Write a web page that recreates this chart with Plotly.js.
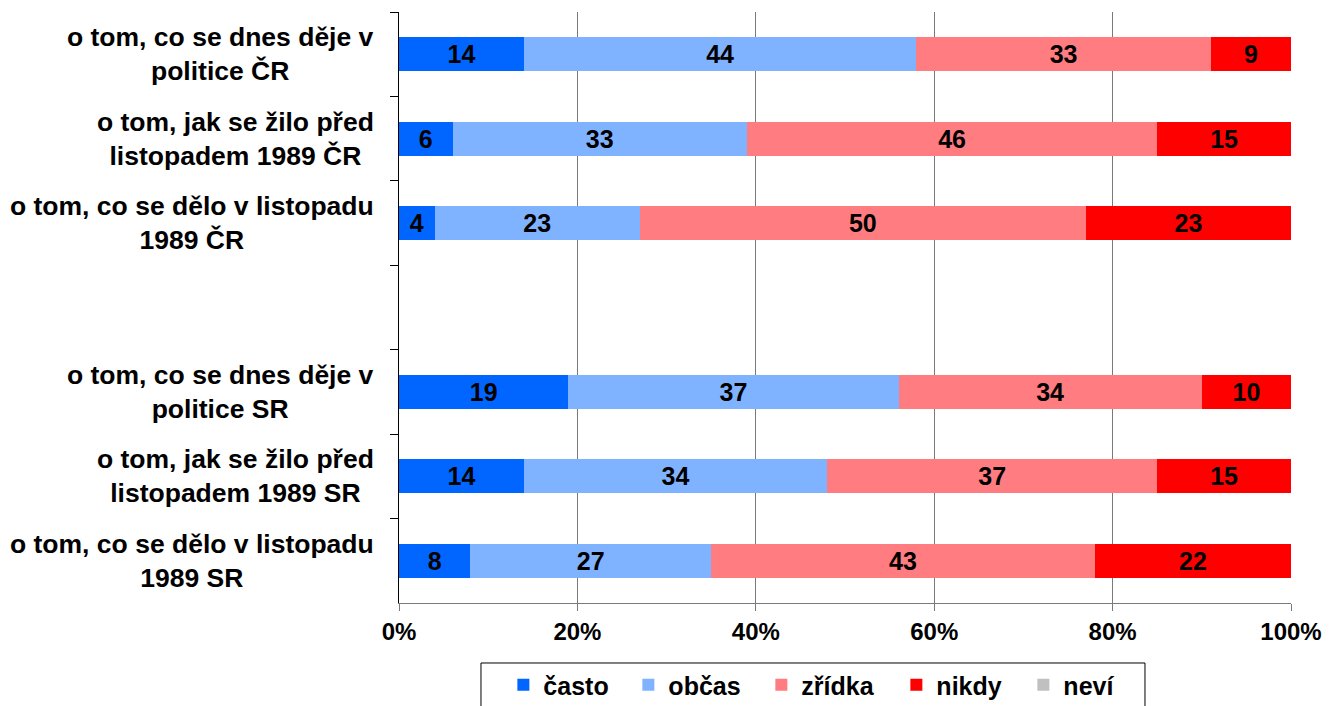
<!DOCTYPE html>
<html>
<head>
<meta charset="utf-8">
<script src="https://cdn.plot.ly/plotly-3.0.1.min.js"></script>
<style>html,body{margin:0;padding:0;background:#fff;}#chart{width:1335px;height:706px;}</style>
</head>
<body>
<div id="chart"></div>
<script>
// Category slots (the blank one is the gap between ČR and SR groups)
var categories = [
  "o tom, co se dnes děje v<br>politice ČR",
  "o tom, jak se žilo před<br>listopadem 1989 ČR",
  "o tom, co se dělo v listopadu<br>1989 ČR",
  " ",
  "o tom, co se dnes děje v<br>politice SR",
  "o tom, jak se žilo před<br>listopadem 1989 SR",
  "o tom, co se dělo v listopadu<br>1989 SR"
];
var barCategories = categories.filter(function(c){ return c.trim() !== ""; });

var seriesNames = ["často", "občas", "zřídka", "nikdy", "neví"];
var casto  = [14, 6, 4, 19, 14, 8];
var obcas  = [44, 33, 23, 37, 34, 27];
var zridka = [33, 46, 50, 34, 37, 43];
var nikdy  = [9, 15, 23, 10, 15, 22];
var nevi   = [0, 0, 0, 0, 0, 0];
var xTickVals = [0, 20, 40, 60, 80, 100];
var xTickText = ["0%", "20%", "40%", "60%", "80%", "100%"];

var seriesValues = [casto, obcas, zridka, nikdy, nevi];
var colors = ["#0066FF", "#80B3FF", "#FF7C80", "#FF0000", "#C0C0C0"];
var legendWidths = [80, 88, 90, 82, 70];

var FONT = "Liberation Sans, Arial, sans-serif";

var traces = seriesNames.map(function(name, i){
  return {
    type: "bar",
    orientation: "h",
    name: name,
    y: barCategories,
    x: seriesValues[i],
    text: seriesValues[i].map(String),
    texttemplate: "%{text}",
    textposition: i === 4 ? "none" : "inside",
    insidetextanchor: "middle",
    textangle: 0,
    constraintext: "none",
    textfont: {family: FONT, size: 25, color: "#000", weight: 700},
    marker: {color: colors[i], line: {width: 0}},
    legendwidth: legendWidths[i],
    hoverinfo: "x+name"
  };
});

var annotations = barCategories.map(function(c){
  return {
    xref: "paper", yref: "y",
    x: -0.026, y: c,
    xanchor: "right", yanchor: "middle",
    align: "center",
    text: c,
    showarrow: false,
    font: {family: FONT, size: 26.5, color: "#000", weight: 700}
  };
});

var layout = {
  width: 1335, height: 706,
  margin: {l: 399, r: 44, t: 12, b: 103, autoexpand: false},
  paper_bgcolor: "#fff", plot_bgcolor: "#fff",
  barmode: "stack",
  bargap: 0.6,
  showlegend: true,
  xaxis: {
    range: [0, 100],
    tickmode: "array",
    tickvals: xTickVals,
    ticktext: xTickText,
    showgrid: true, gridcolor: "#7a7a7a", gridwidth: 1,
    zeroline: false,
    showline: true, linecolor: "#7a7a7a", linewidth: 1,
    ticks: "outside", ticklen: 7, tickcolor: "#7a7a7a",
    tickfont: {family: FONT, size: 24, color: "#000", weight: 700},
    fixedrange: true
  },
  yaxis: {
    type: "category",
    categoryorder: "array",
    categoryarray: categories,
    range: [6.5, -0.5],
    showticklabels: false,
    tickson: "boundaries",
    ticks: "outside", ticklen: 8, tickcolor: "#000",
    showline: true, linecolor: "#000", linewidth: 1,
    showgrid: false, zeroline: false,
    fixedrange: true
  },
  legend: {
    orientation: "h",
    traceorder: "normal",
    x: 0.117, xanchor: "left",
    y: -0.1, yanchor: "top",
    font: {family: FONT, size: 25, color: "#000", weight: 700},
    bgcolor: "rgba(0,0,0,0)",
    borderwidth: 0
  },
  shapes: [{
    type: "rect", xref: "paper", yref: "paper",
    x0: 0.0919, x1: 0.8363, y0: -0.1015, y1: -0.19,
    line: {color: "#000", width: 1}, fillcolor: "rgba(0,0,0,0)"
  }],
  annotations: annotations
};

Plotly.newPlot("chart", traces, layout, {displayModeBar: false, staticPlot: true});
</script>
</body>
</html>
